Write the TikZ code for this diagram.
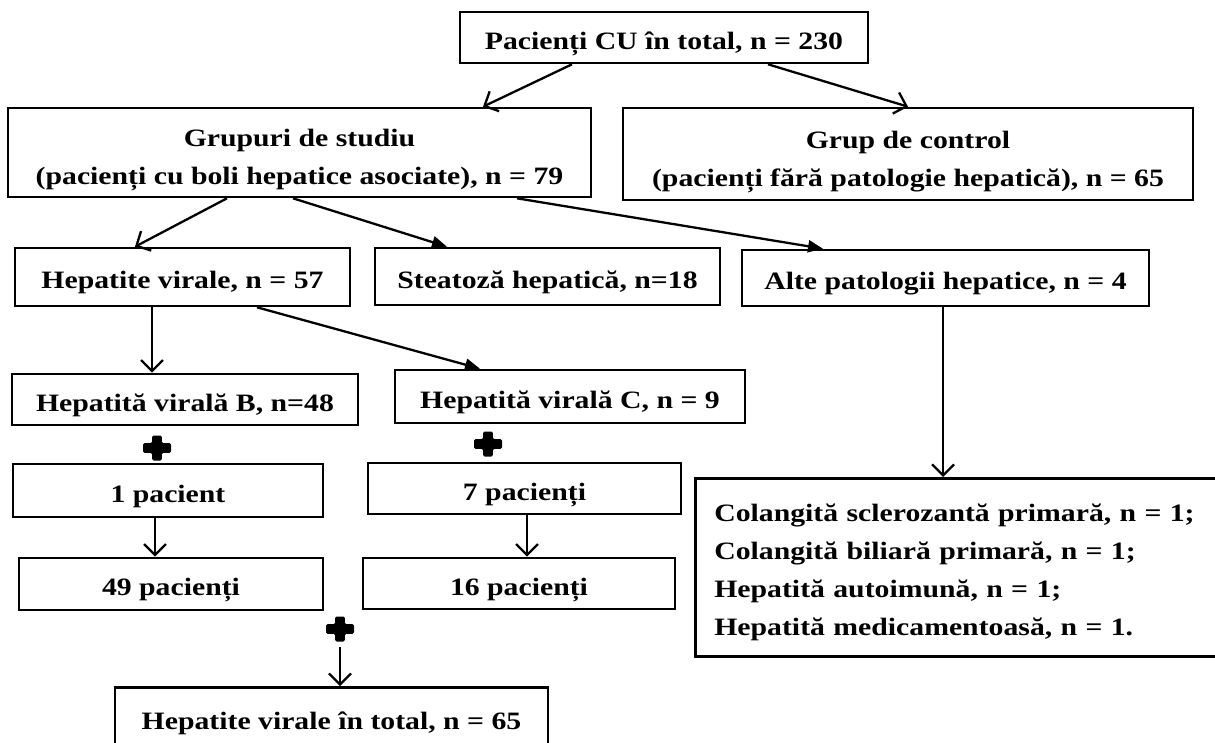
\documentclass[tikz,border=0pt]{standalone}
\usepackage{fontspec}
\setmainfont{Liberation Serif}[FakeStretch=1.19]
\usetikzlibrary{arrows.meta,calc}
\begin{document}
\begin{tikzpicture}[x=1pt,y=-1pt,
  box/.style={draw, line width=2.6pt, inner sep=0pt, align=center,
    font=\fontsize{25}{38}\selectfont\bfseries},
  onebox/.style={box, text height=29pt, text depth=6pt},
  conn/.style={line width=2.3pt},
  openarr/.style={conn, -{Straight Barb[length=11pt,width=22pt]}},
  fillarr/.style={conn, -{Triangle[length=15pt,width=12pt]}},
  plussign/.pic={\fill[rounded corners=1.5pt] (-14,-4.8) -- (-4.8,-4.8) -- (-4.8,-12.5) -- (4.8,-12.5) -- (4.8,-4.8) -- (14,-4.8) -- (14,4.8) -- (4.8,4.8) -- (4.8,12.5) -- (-4.8,12.5) -- (-4.8,4.8) -- (-14,4.8) -- cycle;}
]
\useasboundingbox (0,0) rectangle (1215,742);

\node[onebox, minimum width=408pt, minimum height=51pt] (top) at (664,37.5) {Pacienți CU în total, n = 230};
\node[box, minimum width=583pt, minimum height=89pt] (grp) at (299.5,152.5) {\rule{0pt}{33pt}Grupuri de studiu\\(pacienți cu boli hepatice asociate), n = 79};
\node[box, minimum width=570pt, minimum height=92pt] (ctl) at (908,154) {\rule{0pt}{33pt}Grup de control\\(pacienți fără patologie hepatică), n = 65};

\node[onebox, minimum width=335pt, minimum height=58pt] (hv) at (182.5,277) {Hepatite virale, n = 57};
\node[onebox, minimum width=345pt, minimum height=57pt] (st) at (547.5,276.5) {Steatoză hepatică, n=18};
\node[onebox, minimum width=407pt, minimum height=56pt] (alte) at (945.5,278) {Alte patologii hepatice, n = 4};

\node[onebox, minimum width=346pt, minimum height=51pt] (hb) at (185,399.5) {Hepatită virală B, n=48};
\node[onebox, minimum width=350pt, minimum height=53pt] (hc) at (570,396.5) {Hepatită virală C, n = 9};

\node[onebox, minimum width=310pt, minimum height=53pt] (p1) at (168,490.5) {1 pacient};
\node[onebox, minimum width=313pt, minimum height=51pt] (p7) at (524.5,488.5) {7 pacienți};
\node[onebox, minimum width=304pt, minimum height=52pt] (p49) at (171,584) {49 pacienți};
\node[onebox, minimum width=312pt, minimum height=51pt] (p16) at (519,583.5) {16 pacienți};

\node[onebox, minimum width=433pt, minimum height=62pt, anchor=north] (tot) at (331.5,686) {Hepatite virale în total, n = 65};

\node[box, align=left, text width=488pt, inner xsep=19pt, minimum height=178pt, anchor=north west] (col) at (694,477)
  {\rule{0pt}{28pt}Colangită sclerozantă primară, n = 1;\\Colangită biliară primară, n = 1;\\Hepatită autoimună, n = 1;\\Hepatită medicamentoasă, n = 1.};

\coordinate (plus1) at (157,448);
\coordinate (plus2) at (488,444);
\coordinate (plus3) at (340,629);
\pic at (plus1) {plussign};
\pic at (plus2) {plussign};
\pic at (plus3) {plussign};
\coordinate (p3s) at (340,647);

\draw[openarr] ([xshift=-92pt]top.south) -- ([xshift=183.5pt]grp.north);
\draw[openarr] ([xshift=104pt]top.south) -- (ctl.north);
\draw[openarr] ([xshift=-72.5pt]grp.south) -- ([xshift=-47.5pt]hv.north);
\draw[fillarr] ([xshift=-6.5pt]grp.south) -- ([xshift=-100.5pt]st.north);
\draw[fillarr] ([xshift=217.5pt]grp.south) -- ([xshift=-122.5pt]alte.north);
\draw[openarr] ([xshift=-30.5pt]hv.south) -- ([xshift=-30.5pt]hv.south |- hb.north);
\draw[fillarr] ([xshift=74.5pt]hv.south) -- ([xshift=-90pt]hc.north);
\draw[openarr] ([xshift=-13pt]p1.south) -- ([xshift=-13pt]p1.south |- p49.north);
\draw[openarr] ([xshift=2.5pt]p7.south) -- ([xshift=2.5pt]p7.south |- p16.north);
\draw[openarr] (p3s) -- (p3s |- tot.north);
\draw[openarr] ([xshift=-2.5pt]alte.south) -- ([xshift=-2.5pt]alte.south |- col.north);
\end{tikzpicture}
\end{document}
